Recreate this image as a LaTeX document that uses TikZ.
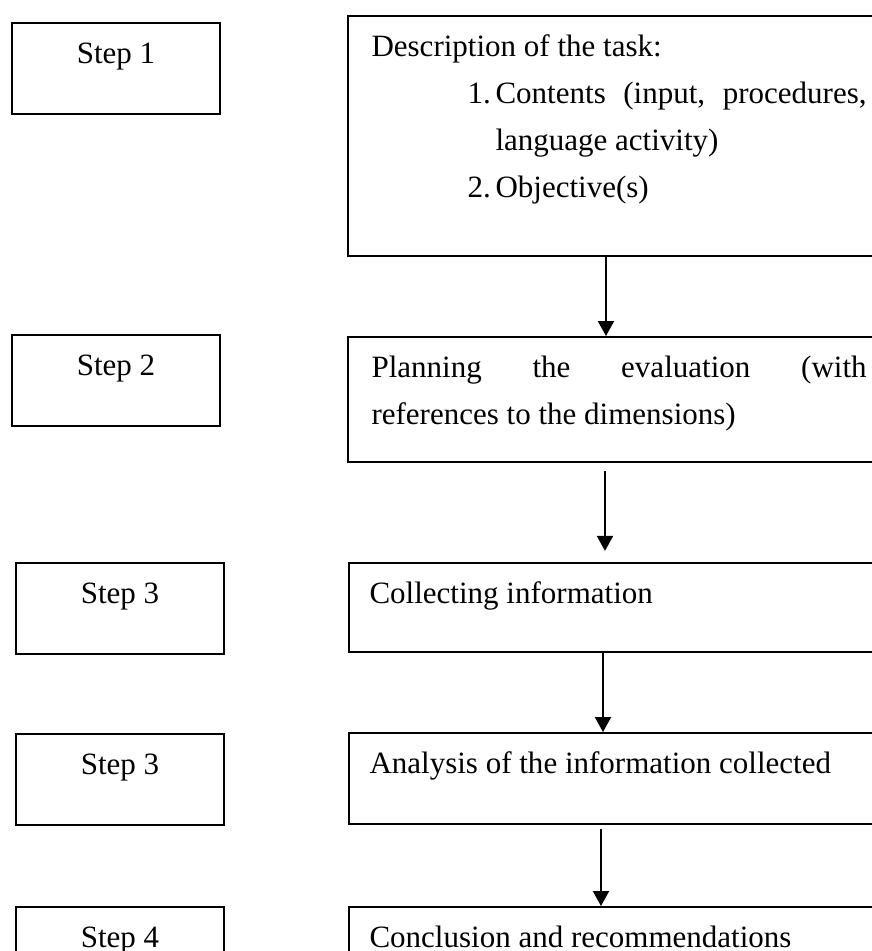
\documentclass[tikz,border=0pt]{standalone}
\usepackage{fontspec}
\setmainfont{Liberation Serif}
\usetikzlibrary{arrows.meta,calc}
\tikzset{
  boxshape/.style={draw=black, line width=0.75pt, rectangle, inner sep=0pt, anchor=north west},
  stepbox/.style={boxshape, minimum width=80.5pt, minimum height=35.2pt},
  arr/.style={line width=0.75pt, -{Triangle[width=6.2pt,length=5.8pt]}},
  txt/.style={anchor=base west, inner sep=0pt, font=\fontsize{12}{18.2}\selectfont},
  steptxt/.style={anchor=base, inner sep=0pt, font=\fontsize{12}{18.2}\selectfont}
}
\begin{document}
\begin{tikzpicture}[x=0.387pt,y=-0.387pt]
\useasboundingbox (0,0) rectangle (872,951);
\fill[white] (0,0) rectangle (872,951);
\clip (0,0) rectangle (872,951);

% step boxes (left column)
\node[stepbox] (s1) at (11,22) {};
\node[stepbox] (s2) at (11,334) {};
\node[stepbox] (s3) at (15,562) {};
\node[stepbox] (s3b) at (15,733) {};
\node[stepbox] (s4) at (15,906) {};
\node[steptxt] (s1t) at ($(s1.north)+(0,41)$) {Step 1};
\node[steptxt] (s2t) at ($(s2.north)+(0,41)$) {Step 2};
\node[steptxt] (s3t) at ($(s3.north)+(0,41)$) {Step 3};
\node[steptxt] (s3bt) at ($(s3b.north)+(0,41)$) {Step 3};
\node[steptxt] (s4t) at ($(s4.north)+(0,41)$) {Step 4};

% content boxes (right column)
\node[boxshape, minimum width=212pt, minimum height=92.9pt] (r1) at (347,15) {};
\node[boxshape, minimum width=212pt, minimum height=48.4pt] (r2) at (347,336) {};
\node[boxshape, minimum width=212pt, minimum height=34.4pt] (r3) at (348,562) {};
\node[boxshape, minimum width=212pt, minimum height=35.2pt] (r4) at (348,732) {};
\node[boxshape, minimum width=212pt, minimum height=36pt] (r5) at (348,906) {};

% texts of content boxes
\node[txt] (r1t) at (371,56) {\parbox[t]{191.6pt}{\fontsize{12}{18.2}\selectfont
\leavevmode Description of the task:\\
\hspace*{37.2pt}\makebox[10.8pt][l]{1.}\hbox to 143.6pt{Contents\hfill(input,\hfill procedures,}\\
\hspace*{48pt}language activity)\\
\hspace*{37.2pt}\makebox[10.8pt][l]{2.}Objective(s)}};
\node[txt] (r2t) at (371,377) {\parbox[t]{191.6pt}{\fontsize{12}{18.2}\selectfont
\leavevmode\hbox to 191.6pt{Planning\hfill the\hfill evaluation\hfill (with}\\
references to the dimensions)}};
\node[txt] (r3t) at (369,603) {Collecting information};
\node[txt] (r4t) at (369,773) {Analysis of the information collected};
\node[txt] (r5t) at (369,947) {Conclusion and recommendations};

% connectors
\coordinate (c1) at (606,0);
\coordinate (c2) at (605,0);
\coordinate (c3) at (603,0);
\coordinate (c4) at (601,0);
\draw[arr] (c1 |- r1.south) -- (c1 |- r2.north);
\draw[arr, shorten <=3.1pt, shorten >=4.3pt] (c2 |- r2.south) -- (c2 |- r3.north);
\draw[arr] (c3 |- r3.south) -- (c3 |- r4.north);
\draw[arr, shorten <=1.5pt] (c4 |- r4.south) -- (c4 |- r5.north);
\end{tikzpicture}
\end{document}
